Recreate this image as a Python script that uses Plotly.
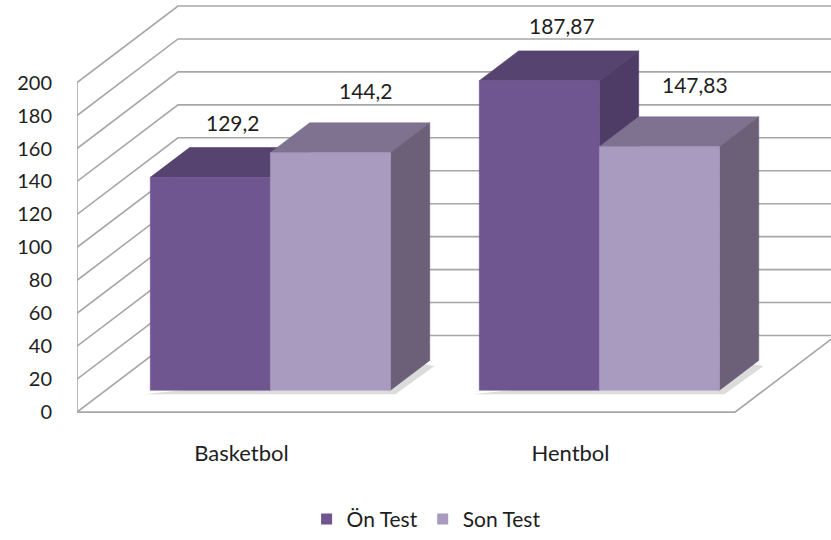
import plotly.graph_objects as go

# ---- data ----
categories = ["Basketbol", "Hentbol"]
series_names = ["Ön Test", "Son Test"]
on_test = [129.2, 187.87]
son_test = [144.2, 147.83]
on_labels = ["129,2", "187,87"]
son_labels = ["144,2", "147,83"]
y_ticks = [0, 20, 40, 60, 80, 100, 120, 140, 160, 180, 200]

# ---- styling / 3D geometry (in axis units) ----
DX, DY = 0.307, 46.5        # full depth offset of the back wall
D0, D1 = 0.286, 0.675       # bar front / back depth
BAR_W = 0.365
GAP = 1.0 - 2 * BAR_W
GRID = "#a6a6a6"
FACE = {
    "Ön Test": dict(front="#6f5690", top="#56436f", side="#4e3c66"),
    "Son Test": dict(front="#a99abf", top="#7e7290", side="#6c6079"),
}
FONT = "Lato, 'Open Sans', sans-serif"
TXT = "#1e1e1e"

def proj(x, y, d):
    return x + d * DX, y + d * DY

fig = go.Figure()

def add_line(pts, color=GRID, width=1.6):
    xs, ys = zip(*pts)
    fig.add_trace(go.Scatter(x=list(xs), y=list(ys), mode="lines",
                             line=dict(color=color, width=width),
                             hoverinfo="skip", showlegend=False))

def add_poly(pts, color, opacity=1.0, lw=0.6):
    xs, ys = zip(*(pts + [pts[0]]))
    fig.add_trace(go.Scatter(x=list(xs), y=list(ys), mode="lines", fill="toself",
                             fillcolor=color, line=dict(color=color, width=lw),
                             opacity=opacity, hoverinfo="skip", showlegend=False))

n_cat = len(categories)
ymax = y_ticks[-1]

# walls & floor
for v in y_ticks:
    add_line([proj(0, v, 0), proj(0, v, 1), proj(n_cat + 0.2, v, 1)])
add_line([proj(0, 0, 0), proj(0, ymax, 0)])
add_line([proj(0, 0, 0), proj(n_cat, 0, 0), proj(n_cat, 0, 1)])

# soft shadows on the floor (just below the front and right of each bar pair)
for i in range(n_cat):
    xl = i + GAP / 2
    xr = i + GAP / 2 + 2 * BAR_W
    add_poly([proj(xl - 0.02, -2.5, D0), proj(xr + 0.015, -2.5, D0),
              proj(xr + 0.03, -1, D1 - 0.05), proj(xr, 0, D1 - 0.05)],
             "#c4c4c4", opacity=0.6, lw=0)

# bars
series_vals = [on_test, son_test]
for i in range(n_cat):
    for j, name in enumerate(series_names):
        v = series_vals[j][i]
        xl = i + GAP / 2 + j * BAR_W
        xr = xl + BAR_W
        c = FACE[name]
        add_poly([proj(xl, v, D0), proj(xr, v, D0), proj(xr, v, D1), proj(xl, v, D1)], c["top"])
        add_poly([proj(xr, 0, D0), proj(xr, 0, D1), proj(xr, v, D1), proj(xr, v, D0)], c["side"])
        add_poly([proj(xl, 0, D0), proj(xr, 0, D0), proj(xr, v, D0), proj(xl, v, D0)], c["front"])

# value labels
annotations = []
labels = [on_labels, son_labels]
for i in range(n_cat):
    for j in range(len(series_names)):
        v = series_vals[j][i]
        xc = i + GAP / 2 + (j + 0.5) * BAR_W
        lx, ly = proj(xc, v, D1)
        annotations.append(dict(x=lx - 0.05 + j * 0.04, y=ly, xref="x", yref="y",
                                text=labels[j][i], showarrow=False, yshift=25 + j * 7,
                                font=dict(family=FONT, size=21, color=TXT)))

# legend entries
for name in series_names:
    fig.add_trace(go.Scatter(x=[None], y=[None], mode="markers", name=name,
                             marker=dict(symbol="square", size=11, color=FACE[name]["front"])))

W, H = 831, 540
ML, MB = 77, 100
px_per_x = 329.0
px_per_y = 1.655
plot_h = H - MB
zero_px_from_top = 414
fig.update_layout(
    width=W, height=H,
    margin=dict(l=ML, r=0, t=0, b=MB),
    paper_bgcolor="white", plot_bgcolor="white",
    font=dict(family=FONT, size=20, color=TXT),
    xaxis=dict(range=[0, (W - ML) / px_per_x], showgrid=False, zeroline=False,
               showline=False, ticks="", tickvals=[i + 0.5 for i in range(n_cat)],
               ticktext=categories, tickfont=dict(size=22, color=TXT)),
    yaxis=dict(range=[-(plot_h - zero_px_from_top) / px_per_y, zero_px_from_top / px_per_y],
               showgrid=False, zeroline=False, showline=False, ticks="",
               tickvals=y_ticks, ticktext=[str(t) for t in y_ticks],
               tickfont=dict(size=20, color=TXT), ticklabelstandoff=24),
    showlegend=True,
    legend=dict(orientation="h", x=0.463, xanchor="center", y=-0.186, yanchor="middle",
                font=dict(size=21, color=TXT), itemwidth=30, bgcolor="rgba(0,0,0,0)"),
    annotations=annotations,
)

fig.write_html("out.html", config={"displayModeBar": False},
               post_script="document.body.style.margin='0px';")
